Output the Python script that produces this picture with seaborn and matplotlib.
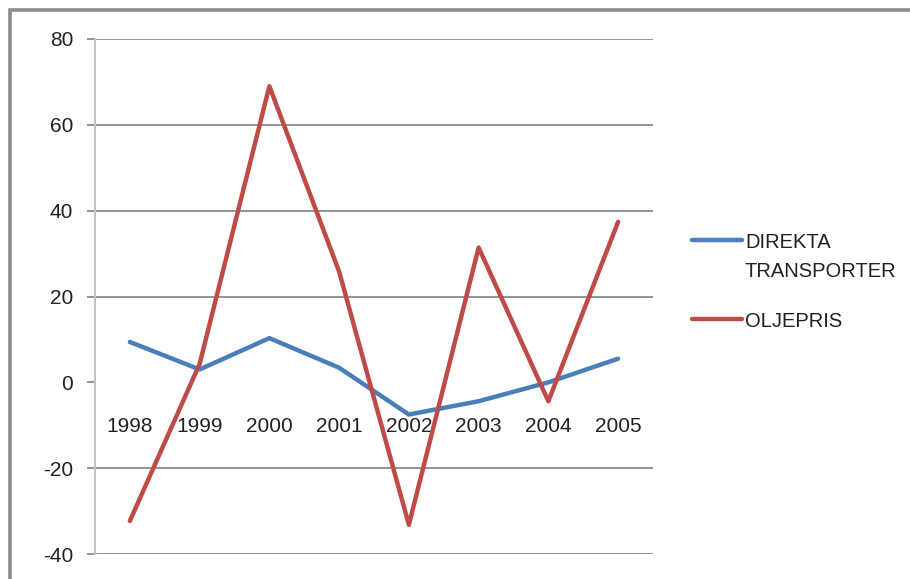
import numpy as np
import pandas as pd
import matplotlib
matplotlib.use("Agg")
import matplotlib.pyplot as plt
import seaborn as sns
from matplotlib.ticker import FixedLocator
from matplotlib.patches import Rectangle

# Annual change (%) by year
years = ["1998", "1999", "2000", "2001", "2002", "2003", "2004", "2005"]
direkta = [9.4, 3.0, 10.3, 3.4, -7.5, -4.4, 0.0, 5.5]
oljepris = [-32.3, 4.3, 69.0, 25.8, -33.2, 31.4, -4.4, 37.4]
series_names = ["DIREKTA\nTRANSPORTER", "OLJEPRIS"]
colors = ["#4A7EBB", "#BE4B48"]
y_ticks = [-40, -20, 0, 20, 40, 60, 80]

sns.set_theme(style="white")
plt.rcParams["font.family"] = ["Liberation Sans", "DejaVu Sans"]

df = pd.DataFrame({
    "pos": np.tile(np.arange(len(years)), 2),
    "value": direkta + oljepris,
    "series": np.repeat(series_names, len(years)),
})

W, H = 910, 579
fig = plt.figure(figsize=(W / 100, H / 100), dpi=100)
fig.patch.set_facecolor("white")
ax = fig.add_axes([95 / W, 1 - 554 / H, (653 - 95) / W, (554 - 39) / H])

sns.lineplot(data=df, x="pos", y="value", hue="series", hue_order=series_names,
             palette=colors, linewidth=3.2, ax=ax, sort=False)

ax.set_xlim(-0.5, len(years) - 0.5)
ax.set_ylim(-40, 80)
ax.set_xlabel("")
ax.set_ylabel("")

# horizontal gridlines (none drawn along zero)
ax.set_yticks(y_ticks)
ax.set_yticklabels([str(v) for v in y_ticks])
ax.grid(axis="y", color="#8a8a8a", linewidth=1.3)
ax.grid(axis="x", visible=False)
ax.set_axisbelow(True)
ax.yaxis.get_major_ticks()[y_ticks.index(0)].gridline.set_visible(False)

for s in ["top", "right"]:
    ax.spines[s].set_visible(False)
ax.spines["left"].set_color("#c4c4c4")
ax.spines["left"].set_linewidth(1.5)
ax.spines["bottom"].set_position(("data", 0))
ax.spines["bottom"].set_visible(False)

# category labels hang below the zero line, ticks mark category boundaries
ax.set_xticks(np.arange(len(years)))
ax.set_xticklabels(years)
ax.xaxis.set_minor_locator(FixedLocator(np.arange(len(years) + 1) - 0.5))
ax.tick_params(axis="x", which="major", length=0, pad=25, labelsize=15, labelcolor="#222222")
ax.tick_params(axis="x", which="minor", length=4.5, width=1.2, color="#a8a8a8", direction="out")
ax.tick_params(axis="y", length=5.8, width=1.3, color="#8a8a8a", pad=10,
               labelsize=15, labelcolor="#222222", left=True)

handles, labels = ax.get_legend_handles_labels()
ax.get_legend().remove()
leg = fig.legend(handles, labels, loc="upper left", bbox_to_anchor=(674 / W, 1 - 215 / H),
                 frameon=False, fontsize=14.5, handlelength=2.5, handletextpad=0.12,
                 labelspacing=1.55, labelcolor="#222222")
for t in leg.get_texts():
    t.set_linespacing(1.65)
# keep each handle level with the first line of its label
try:
    for column in leg._legend_handle_box.get_children():
        for item in column.get_children():
            item.align = "top"
except AttributeError:
    pass

# outer chart border
fig.add_artist(Rectangle((10 / W, -0.2), 1.2, 1.2 - 10 / H, transform=fig.transFigure,
                         fill=False, edgecolor="#8c8c8c", linewidth=2.6))

fig.savefig("out.png", dpi=100, facecolor="white")
